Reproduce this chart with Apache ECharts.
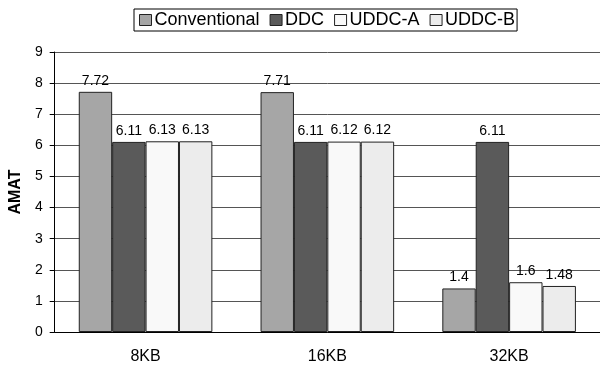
<!DOCTYPE html>
<html><head><meta charset="utf-8">
<script src="https://cdn.jsdelivr.net/npm/echarts@6/dist/echarts.min.js"></script>
<style>html,body{margin:0;padding:0;background:#fff}#c{width:600px;height:366px}</style>
</head><body><div id="c"></div>
<script>
const categories = ['8KB', '16KB', '32KB'];
const seriesNames = ['Conventional', 'DDC', 'UDDC-A', 'UDDC-B'];
const conventional = [7.72, 7.71, 1.4];
const ddc = [6.11, 6.11, 6.11];
const uddcA = [6.13, 6.12, 1.6];
const uddcB = [6.13, 6.12, 1.48];
const yTicks = [0, 1, 2, 3, 4, 5, 6, 7, 8, 9];

const colors = ['#a6a6a6', '#5a5a5a', '#f9f9f9', '#ececec'];
const values = [conventional, ddc, uddcA, uddcB];
const font = 'Liberation Sans, Arial, sans-serif';

const chart = echarts.init(document.getElementById('c'));
chart.setOption({
  animation: false,
  textStyle: { fontFamily: font },
  legend: {
    top: 9, left: 134,
    data: seriesNames,
    icon: 'rect',
    itemWidth: 12, itemHeight: 11, itemGap: 10,
    borderColor: '#000', borderWidth: 1, padding: [2, 2, 2, 5],
    textStyle: { fontSize: 18, color: '#000', fontFamily: font, padding: [0, 0, 0, -2] },
    itemStyle: { borderColor: '#222', borderWidth: 1 }
  },
  grid: { left: 52, top: 52, width: 550, height: 280, containLabel: false },
  xAxis: {
    type: 'category', data: categories,
    axisLine: { lineStyle: { color: '#000', width: 1 } },
    axisTick: { show: false },
    axisLabel: { fontSize: 16, color: '#000', margin: 17, fontFamily: font }
  },
  yAxis: {
    type: 'value', min: yTicks[0], max: yTicks[yTicks.length - 1], interval: 1,
    name: 'AMAT', nameLocation: 'middle', nameGap: 29, nameRotate: 90,
    nameTextStyle: { fontSize: 16, fontWeight: 'bold', color: '#000', fontFamily: font },
    axisLine: { show: true, lineStyle: { color: '#000' } },
    axisTick: { show: true, length: 5, lineStyle: { color: '#000' } },
    axisLabel: { fontSize: 14, color: '#000', margin: 12, fontFamily: font },
    splitLine: { lineStyle: { color: '#555', width: 1 } }
  },
  series: seriesNames.map((n, i) => ({
    name: n, type: 'bar', data: values[i],
    barWidth: 33.4, barGap: '0%',
    itemStyle: { color: colors[i], borderColor: '#222', borderWidth: 1 },
    label: { show: true, position: 'top', distance: 4, fontSize: 14, color: '#000', fontFamily: font }
  }))
});
</script></body></html>
